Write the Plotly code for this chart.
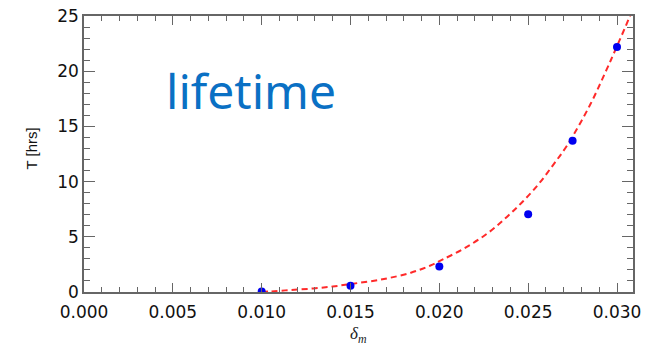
import plotly.graph_objects as go

# Measured lifetime versus delta_m
delta_m = [0.010, 0.015, 0.020, 0.025, 0.0275, 0.030]
lifetime_hrs = [0.05, 0.57, 2.3, 7.05, 13.7, 22.2]

# Fitted trend (dashed red), sampled along the curve
fit_delta = [0.0100, 0.0105, 0.0116, 0.0129, 0.0140, 0.0150, 0.0168, 0.0184,
             0.0195, 0.0202, 0.0214, 0.0227, 0.0238, 0.0247, 0.0256, 0.0264,
             0.0272, 0.0285, 0.0294, 0.0299, 0.0307, 0.0312]
fit_hrs = [0.0, 0.05, 0.18, 0.32, 0.5, 0.72, 1.15, 1.75,
           2.4, 2.95, 3.95, 5.3, 6.8, 8.2, 9.8, 11.5,
           13.3, 17.0, 20.1, 21.9, 24.9, 27.0]

x_ticks = [0.000, 0.005, 0.010, 0.015, 0.020, 0.025, 0.030]
y_ticks = [0, 5, 10, 15, 20, 25]

fig = go.Figure()
fig.add_trace(go.Scatter(
    x=fit_delta, y=fit_hrs, mode="lines", line_shape="spline",
    line=dict(color="#ff2a2a", width=2, dash="6px,4px"),
    showlegend=False, hoverinfo="skip",
))
fig.add_trace(go.Scatter(
    x=delta_m, y=lifetime_hrs, mode="markers",
    marker=dict(color="#0000f0", size=8, line=dict(width=0)),
    showlegend=False,
))

axis_font = dict(family="DejaVu Sans, sans-serif", size=17, color="#111")

fig.update_xaxes(
    range=[0, 0.0309], tickvals=x_ticks, tickformat=".3f",
    ticks="inside", ticklen=9, tickwidth=1, tickcolor="#666",
    minor=dict(dtick=0.001, ticks="inside", ticklen=5, tickcolor="#666", showgrid=False),
    showline=True, linecolor="#666", linewidth=1.5, mirror="ticks",
    showgrid=False, zeroline=False, tickfont=axis_font, ticklabelstandoff=4,
    automargin=False,
)
fig.update_yaxes(
    range=[0, 25], tickvals=y_ticks,
    ticks="inside", ticklen=11, tickwidth=1, tickcolor="#666",
    minor=dict(dtick=1, ticks="inside", ticklen=6, tickcolor="#666", showgrid=False),
    showline=True, linecolor="#666", linewidth=1.5, mirror="ticks",
    showgrid=False, zeroline=False, tickfont=axis_font,
    automargin=False,
)

# Axis titles
fig.add_annotation(
    text="T [hrs]", xref="paper", yref="paper", x=-0.0965, y=0.52,
    showarrow=False, textangle=-90, xanchor="center", yanchor="middle",
    font=dict(family="Liberation Sans, Arial, sans-serif", size=15, color="#111"),
)
fig.add_annotation(
    text="<i>δ<sub>m</sub></i>", xref="paper", yref="paper", x=0.5, y=-0.155,
    showarrow=False, xanchor="center", yanchor="middle",
    font=dict(family="Liberation Serif, serif", size=17, color="#222"),
)

fig.add_annotation(
    text="lifetime", xref="paper", yref="paper", x=0.305, y=0.73,
    showarrow=False, xanchor="center", yanchor="middle",
    font=dict(family="Noto Sans, sans-serif", size=48, color="#0a70c4"),
)

fig.update_layout(
    width=648, height=345,
    margin=dict(l=84, r=15, t=16, b=53),
    plot_bgcolor="white", paper_bgcolor="white",
)

fig.write_html("out.html")
